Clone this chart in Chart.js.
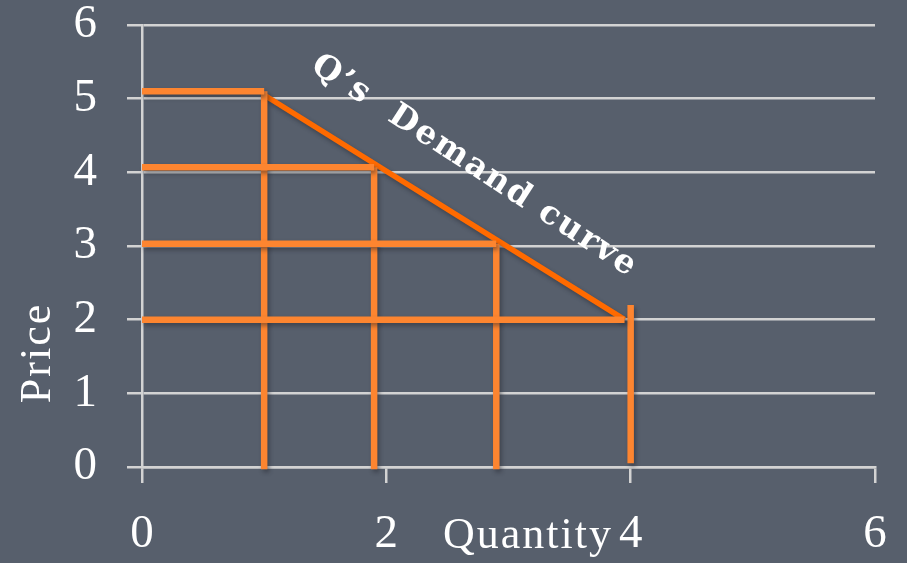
<!DOCTYPE html>
<html>
<head>
<meta charset="utf-8">
<title>Demand curve</title>
<script src="https://cdn.jsdelivr.net/npm/chart.js@4.4.1/dist/chart.umd.min.js"></script>
<style>
  html, body { margin: 0; padding: 0; background: #575f6c; }
  #wrap { width: 907px; height: 563px; }
</style>
</head>
<body>
<div id="wrap"><canvas id="demandChart"></canvas></div>
<script>
// Step lines: price level and the quantity bought at that price
const stepQuantities = [1, 1.9, 2.9, 3.95];
const stepPrices = [5.1, 4.07, 3.03, 2];

// Vertical drops from each step down to the quantity axis
const dropQuantities = [1, 1.9, 2.9, 4];
const dropTops = [5.1, 4.07, 3.03, 2.2];
const dropBottoms = [-0.03, -0.03, -0.03, 0.05];

// The demand curve itself
const demandQuantities = [1, 3.95];
const demandPrices = [5.05, 2];

const xTicks = [0, 2, 4, 6];
const yTicks = [0, 1, 2, 3, 4, 5, 6];

const gridColor = '#d3d3d3';
const stepColor = '#fd8530';
const curveColor = '#ff6a00';
const serif = "'Liberation Serif', 'DejaVu Serif', serif";

const datasets = [];
stepPrices.forEach(function (p, i) {
    datasets.push({
        data: [{ x: 0, y: p }, { x: stepQuantities[i], y: p }],
        borderColor: stepColor,
        borderWidth: 6.5
    });
});
dropQuantities.forEach(function (q, i) {
    datasets.push({
        data: [{ x: q, y: dropBottoms[i] }, { x: q, y: dropTops[i] }],
        borderColor: stepColor,
        borderWidth: 6.5
    });
});
datasets.push({
    data: demandQuantities.map(function (q, i) { return { x: q, y: demandPrices[i] }; }),
    borderColor: curveColor,
    borderWidth: 5.5
});
datasets.forEach(function (d) {
    d.showLine = true;
    d.pointRadius = 0;
    d.borderCapStyle = 'butt';
    d.clip = false;
});

// soft drop shadow under the orange lines
const shadowPlugin = {
    id: 'lineShadow',
    beforeDatasetsDraw(chart) {
        const ctx = chart.ctx;
        ctx.save();
        ctx.shadowColor = 'rgba(30, 34, 42, 0.45)';
        ctx.shadowBlur = 4;
        ctx.shadowOffsetX = 2;
        ctx.shadowOffsetY = 3;
    },
    afterDatasetsDraw(chart) {
        chart.ctx.restore();
    }
};

// axis titles and the curve label
const labelPlugin = {
    id: 'labels',
    afterDraw(chart) {
        const ctx = chart.ctx;
        const xs = chart.scales.x;
        const ys = chart.scales.y;
        ctx.save();
        ctx.fillStyle = '#ffffff';
        ctx.letterSpacing = '2px';
        ctx.font = '44px ' + serif;

        ctx.textAlign = 'center';
        ctx.textBaseline = 'alphabetic';
        ctx.fillText('Quantity', 528, 548);

        ctx.save();
        ctx.translate(50, 353);
        ctx.rotate(-Math.PI / 2);
        ctx.fillText('Price', 0, 0);
        ctx.restore();

        ctx.save();
        ctx.translate(xs.getPixelForValue(2.72), ys.getPixelForValue(4.08));
        ctx.rotate(33 * Math.PI / 180);
        ctx.letterSpacing = '2px';
        ctx.font = 'bold 33px ' + "'DejaVu Serif', serif";
        ctx.textBaseline = 'middle';
        ctx.fillText('Q\u2019s  Demand curve', 0, 0);
        ctx.restore();

        ctx.restore();
    }
};

const chartData = { datasets: datasets };

new Chart(document.getElementById('demandChart'), {
    type: 'scatter',
    data: chartData,
    options: {
        responsive: true,
        maintainAspectRatio: false,
        animation: false,
        layout: { padding: { left: 0, right: 32, top: 25, bottom: 0 } },
        plugins: {
            legend: { display: false },
            tooltip: { enabled: false }
        },
        scales: {
            x: {
                type: 'linear',
                min: 0,
                max: 6,
                afterBuildTicks(scale) { scale.ticks = xTicks.map(function (v) { return { value: v }; }); },
                afterFit(scale) {
                    scale.height = 96;
                    scale.paddingLeft = 0;
                    scale.paddingRight = 0;
                },
                grid: { drawOnChartArea: false, color: gridColor, lineWidth: 2.5, tickLength: 16 },
                border: { color: gridColor, width: 2.5 },
                ticks: {
                    color: '#ffffff',
                    padding: 23,
                    maxRotation: 0,
                    font: { family: serif, size: 47 }
                }
            },
            y: {
                type: 'linear',
                min: 0,
                max: 6,
                afterBuildTicks(scale) { scale.ticks = yTicks.map(function (v) { return { value: v }; }); },
                afterFit(scale) {
                    scale.width = 142;
                    scale.paddingTop = 0;
                    scale.paddingBottom = 0;
                },
                grid: { color: gridColor, lineWidth: 2.5, tickLength: 15 },
                border: { color: gridColor, width: 2.5 },
                ticks: {
                    color: '#ffffff',
                    padding: 30,
                    font: { family: serif, size: 47 }
                }
            }
        }
    },
    plugins: [shadowPlugin, labelPlugin]
});
</script>
</body>
</html>
